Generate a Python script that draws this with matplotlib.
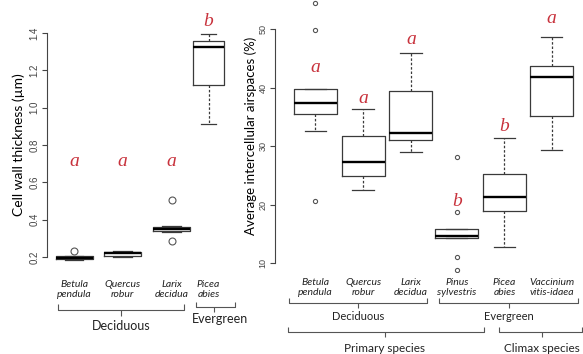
import matplotlib
matplotlib.use("Agg")
import matplotlib.pyplot as plt
from matplotlib.lines import Line2D

# ---------------- data ----------------
left_species = ["Betula\npendula", "Quercus\nrobur", "Larix\ndecidua", "Picea\nabies"]
left_med = [0.195, 0.222, 0.348, 1.327]
left_q1 = [0.188, 0.205, 0.337, 1.12]
left_q3 = [0.205, 0.228, 0.362, 1.359]
left_wlo = [0.186, 0.198, 0.333, 0.911]
left_whi = [0.207, 0.232, 0.365, 1.393]
left_fliers = [[0.235], [], [0.505, 0.285], []]
left_letters = ["a", "a", "a", "b"]
left_letter_y = [0.71, 0.71, 0.71, 1.46]
left_ticks = [0.2, 0.4, 0.6, 0.8, 1.0, 1.2, 1.4]

right_species = ["Betula\npendula", "Quercus\nrobur", "Larix\ndecidua",
                 "Pinus\nsylvestris", "Picea\nabies", "Vaccinium\nvitis-idaea"]
right_med = [37.35, 27.4, 32.2, 14.6, 21.3, 41.85]
right_q1 = [35.5, 25.0, 31.1, 14.3, 18.9, 35.1]
right_q3 = [39.85, 31.8, 39.45, 15.9, 25.2, 43.7]
right_wlo = [32.6, 22.5, 29.0, 14.3, 12.8, 29.4]
right_whi = [39.85, 36.3, 45.9, 15.9, 31.4, 48.6]
right_fliers = [[49.8, 54.5, 20.7], [], [], [28.2, 18.8, 11.0, 8.8], [], []]
right_letters = ["a", "a", "a", "b", "b", "a"]
right_letter_y = [43.4, 38.1, 48.2, 20.6, 33.3, 51.9]
right_ticks = [10, 20, 30, 40, 50]

# ---------------- style ----------------
W, H = 583, 354
fig = plt.figure(figsize=(W / 100, H / 100), dpi=100)
LETTER_COLOR = "#c8323c"
BOXC = "#3a3a3a"
sans = ["Lato", "DejaVu Sans"]

def px_axes(x0, y_top, x1, y_bot):
    return fig.add_axes([x0 / W, 1 - y_bot / H, (x1 - x0) / W, (y_bot - y_top) / H])

def make_stats(med, q1, q3, lo, hi, fl):
    return [dict(med=m, q1=a, q3=b, whislo=c, whishi=d, fliers=f)
            for m, a, b, c, d, f in zip(med, q1, q3, lo, hi, fl)]

def style_axis(ax, ticks, fs):
    for s in ["top", "right", "bottom"]:
        ax.spines[s].set_visible(False)
    ax.spines["left"].set_bounds(ticks[0], ticks[-1])
    ax.spines["left"].set_color("#444444")
    ax.spines["left"].set_linewidth(0.8)
    ax.set_yticks(ticks)
    ax.set_yticklabels([("%g" % t) if isinstance(t, int) else ("%.1f" % t) for t in ticks],
                       rotation=90, va="center", fontsize=fs, color="#444444",
                       family=["Liberation Sans", "DejaVu Sans"])
    ax.tick_params(axis="y", length=3.5, width=0.8, color="#444444", pad=2)
    ax.tick_params(axis="x", length=0)
    ax.patch.set_alpha(0)

def draw_boxes(ax, stats, pos, widths, msize):
    ax.bxp(stats, positions=pos, widths=widths, showfliers=True, patch_artist=False,
           boxprops=dict(color=BOXC, linewidth=0.9),
           medianprops=dict(color="black", linewidth=1.7),
           whiskerprops=dict(color=BOXC, linewidth=0.9, linestyle=(0, (2, 1.5))),
           capprops=dict(color=BOXC, linewidth=0.9),
           capwidths=[w * 0.5 for w in widths],
           flierprops=dict(marker="o", markerfacecolor="none", markeredgecolor="#555555",
                           markersize=msize, markeredgewidth=0.8))

# ---------------- left panel ----------------
axL = px_axes(47, 33 - 0.05 * 186.7, 230, 33 + 1.25 * 186.7)
posL = [1, 2, 3.01, 3.77]
draw_boxes(axL, make_stats(left_med, left_q1, left_q3, left_wlo, left_whi, left_fliers),
           posL, [0.76, 0.76, 0.76, 0.64], 5)
axL.set_xlim(0.44, 0.44 + 183 / 48.5)
axL.set_ylim(0.15, 1.45)
style_axis(axL, left_ticks, 7)
axL.set_xticks(posL)
axL.set_xticklabels(left_species, fontsize=7.5, style="italic", family=sans,
                    color="#222222", linespacing=1.15)
axL.tick_params(axis="x", pad=10)
axL.set_ylabel("Cell wall thickness (\u00b5m)", fontsize=10, family=sans, labelpad=3)
for p, t, y in zip(posL, left_letters, left_letter_y):
    axL.text(p, y, t, color=LETTER_COLOR, fontsize=14, style="italic",
             family=["Liberation Serif", "DejaVu Serif"], ha="center", va="center",
             clip_on=False)

# ---------------- right panel ----------------
sc = 5.85
axR = px_axes(275, 263.3 - 45 * sc, 583, 263.3 + 1.5 * sc)
posR = [1, 2, 3, 3.96, 4.96, 5.95]
draw_boxes(axR, make_stats(right_med, right_q1, right_q3, right_wlo, right_whi, right_fliers),
           posR, [0.9] * 6, 3)
axR.set_xlim(0.151, 0.151 + 308 / 47.7)
axR.set_ylim(8.5, 55)
style_axis(axR, right_ticks, 6.5)
axR.set_xticks(posR)
axR.set_xticklabels(right_species, fontsize=7.5, style="italic", family=sans,
                    color="#222222", linespacing=1.15)
axR.tick_params(axis="x", pad=4)
axR.set_ylabel("Average intercellular airspaces (%)", fontsize=9.5, family=sans, labelpad=1)
for p, t, y in zip(posR, right_letters, right_letter_y):
    axR.text(p, y, t, color=LETTER_COLOR, fontsize=14, style="italic",
             family=["Liberation Serif", "DejaVu Serif"], ha="center", va="center",
             clip_on=False)

# ---------------- group brackets (overlay in pixel coords) ----------------
ov = fig.add_axes([0, 0, 1, 1], zorder=-1)
ov.set_xlim(0, W)
ov.set_ylim(H, 0)
ov.axis("off")

def bracket(x0, x1, y, up, xc, down, label, ty, fs, tx=None):
    kw = dict(color="#555555", linewidth=0.8, solid_capstyle="butt")
    ov.add_line(Line2D([x0, x0, x1, x1], [y - up, y, y, y - up], **kw))
    ov.add_line(Line2D([xc, xc], [y, y + down], **kw))
    ov.text(xc if tx is None else tx, ty, label, ha="center", va="center",
            fontsize=fs, family=sans, color="#222222")

bracket(58, 184, 309.5, 6, 121, 6, "Deciduous", 326, 9)
bracket(196, 235, 307, 5, 214, 5, "Evergreen", 319, 9, tx=220)
bracket(289, 427, 303, 5, 358, 5, "Deciduous", 316, 8)
bracket(439, 578, 303, 5, 509, 5, "Evergreen", 316, 8)
bracket(288, 484, 332, 5, 385, 5, "Primary species", 349, 8.5)
bracket(499, 582, 332, 5, 542, 5, "Climax species", 349, 8.5)

fig.savefig("out.png", dpi=100)
